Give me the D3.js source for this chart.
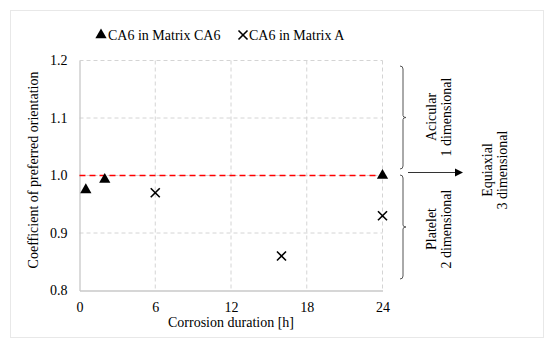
<!DOCTYPE html>
<html><head><meta charset="utf-8">
<script src="https://cdn.jsdelivr.net/npm/d3@7"></script>
<style>body{margin:0;background:#fff}svg{display:block}text{font-family:"Liberation Serif","Times New Roman",serif;fill:#000}</style>
</head><body><svg id="c" width="550" height="346"></svg>
<script>
const seriesNames = ["CA6 in Matrix CA6", "CA6 in Matrix A"];
const ca6X = [0.5, 2, 24];
const ca6Y = [0.975, 0.993, 1.0];
const matAX = [6, 16, 24];
const matAY = [0.97, 0.86, 0.93];
const xTicks = [0, 6, 12, 18, 24];
const yTicks = [0.8, 0.9, 1.0, 1.1, 1.2];
const refY = 1.0;
const regionLabels = [["Acicular", "1 dimensional"], ["Platelet", "2 dimensional"], ["Equiaxial", "3 dimensional"]];

const svg = d3.select("#c");
svg.append("rect").attr("x",10.5).attr("y",10.5).attr("width",533).attr("height",327)
  .attr("fill","#fff").attr("stroke","#e8e8e8");

const x = d3.scaleLinear().domain([0,24]).range([79.5,382.5]);
const y = d3.scaleLinear().domain([0.8,1.2]).range([290.5,60.5]);

// grid
const g = svg.append("g");
g.selectAll(".vg").data(xTicks.filter(d=>d>0)).join("line")
  .attr("x1",d=>x(d)).attr("x2",d=>x(d)).attr("y1",y(1.2)).attr("y2",y(0.8))
  .attr("stroke","#d4d4d4").attr("stroke-dasharray","4,3");
g.selectAll(".hg").data(yTicks.filter(d=>d>0.8)).join("line")
  .attr("x1",x(0)).attr("x2",x(24)).attr("y1",d=>y(d)).attr("y2",d=>y(d))
  .attr("stroke","#d4d4d4").attr("stroke-dasharray","4,3");

// axes
const xa = svg.append("g").attr("transform",`translate(0,${y(0.8)})`)
  .call(d3.axisBottom(x).tickValues(xTicks).tickSize(0).tickPadding(12).tickFormat(d3.format("d")));
const ya = svg.append("g").attr("transform",`translate(${x(0)},0)`)
  .call(d3.axisLeft(y).tickValues(yTicks).tickSize(0).tickPadding(12).tickFormat(d3.format(".1f")));
[xa,ya].forEach(a=>{a.select(".domain").attr("stroke","#c8c8c8").attr("stroke-width",1.3);
  a.selectAll("text").attr("font-size",14).attr("font-family","Liberation Serif").attr("fill","#000");});

// axis titles
svg.append("text").attr("x",x(12)).attr("y",327).attr("text-anchor","middle").attr("font-size",14).text("Corrosion duration [h]");
svg.append("text").attr("transform","translate(38,170) rotate(-90)").attr("text-anchor","middle").attr("font-size",14).text("Coefficient of preferred orientation");

// reference line
svg.append("line").attr("x1",x(0)).attr("x2",x(24)).attr("y1",y(refY)).attr("y2",y(refY))
  .attr("stroke","#ff0000").attr("stroke-width",1.6).attr("stroke-dasharray","6,4");

// markers
const tri = d3.symbol().type(d3.symbolTriangle).size(55);
const cross = d3.symbol().type(d3.symbolX).size(55);
svg.selectAll(".t").data(ca6X.map((v,i)=>[v,ca6Y[i]])).join("path")
  .attr("d",tri).attr("transform",d=>`translate(${x(d[0])},${y(d[1])})`).attr("fill","#000");
svg.selectAll(".x").data(matAX.map((v,i)=>[v,matAY[i]])).join("path")
  .attr("d",cross).attr("transform",d=>`translate(${x(d[0])},${y(d[1])})`).attr("fill","none").attr("stroke","#000").attr("stroke-width",1.6);

// legend
svg.append("path").attr("d",tri).attr("transform","translate(101,35)").attr("fill","#000");
svg.append("text").attr("x",108).attr("y",40).attr("font-size",14).text(seriesNames[0]);
svg.append("path").attr("d",cross).attr("transform","translate(243,35)").attr("fill","none").attr("stroke","#000").attr("stroke-width",1.6);
svg.append("text").attr("x",249).attr("y",40).attr("font-size",14).text(seriesNames[1]);

// brackets
function brace(y0,y1){
  const xm=403, ym=(y0+y1)/2;
  return `M${xm-3},${y0} Q${xm},${y0} ${xm},${y0+3} L${xm},${ym-2} Q${xm},${ym} ${xm+3},${ym} Q${xm},${ym} ${xm},${ym+2} L${xm},${y1-3} Q${xm},${y1} ${xm-3},${y1}`;
}
svg.append("path").attr("d",brace(66,169)).attr("fill","none").attr("stroke","#555").attr("stroke-width",1);
svg.append("path").attr("d",brace(175,279)).attr("fill","none").attr("stroke","#555").attr("stroke-width",1);
// arrow
svg.append("line").attr("x1",408).attr("x2",455).attr("y1",172.5).attr("y2",172.5).attr("stroke","#333").attr("stroke-width",1);
svg.append("path").attr("d","M455,168.5 L463,172.5 L455,176.5 Z").attr("fill","#000");

// region labels
const pos = [[117,436,451],[229,436,451],[170,492,507]];
regionLabels.forEach((l,i)=>{
  const [cy,x1,x2]=pos[i];
  svg.append("text").attr("transform",`translate(${x1},${cy}) rotate(-90)`).attr("text-anchor","middle").attr("font-size",14).text(l[0]);
  svg.append("text").attr("transform",`translate(${x2},${cy}) rotate(-90)`).attr("text-anchor","middle").attr("font-size",14).text(l[1]);
});
</script></body></html>
